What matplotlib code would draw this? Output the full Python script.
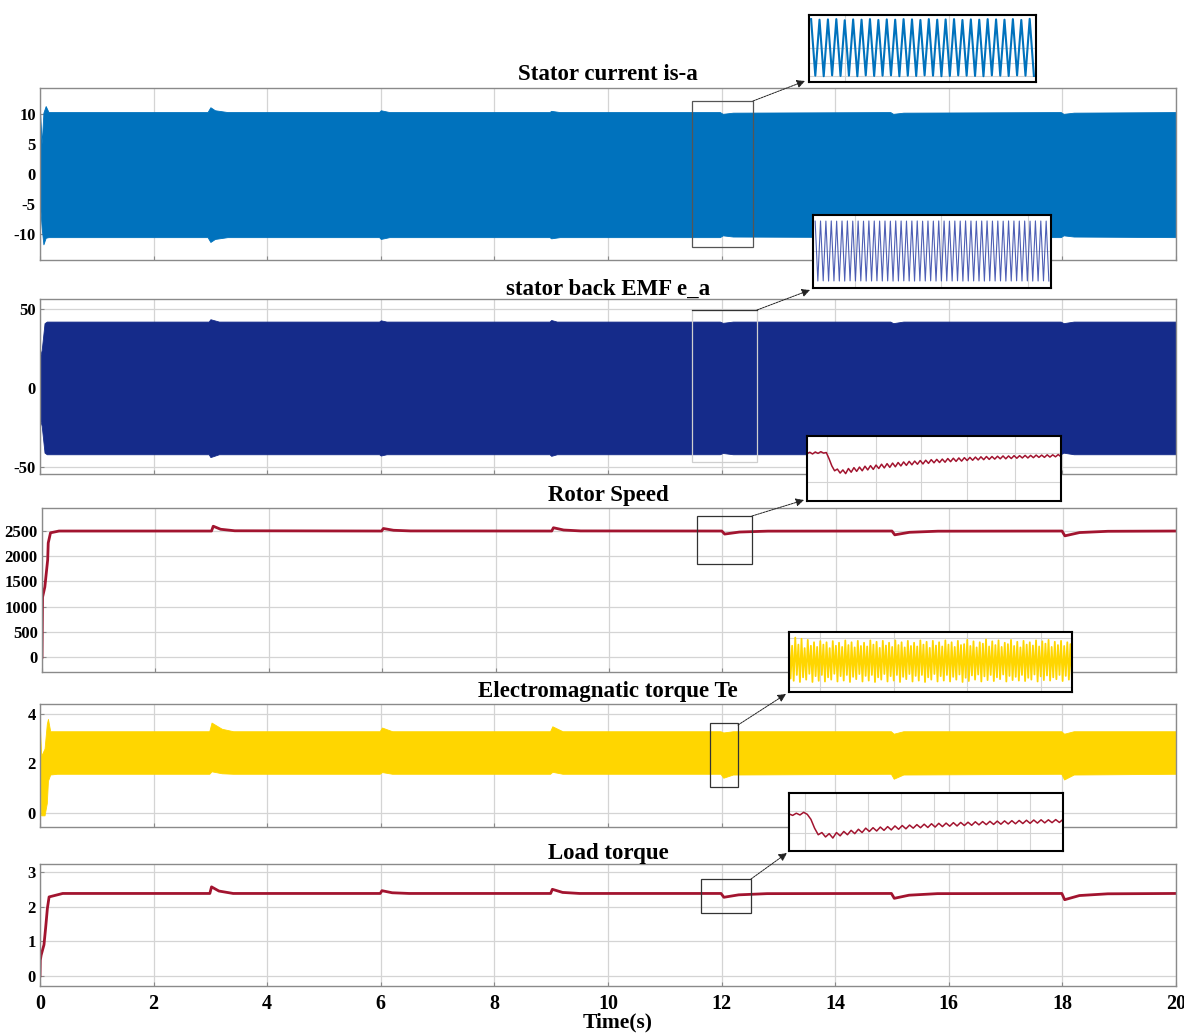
import numpy as np
import matplotlib
matplotlib.use("Agg")
import matplotlib.pyplot as plt
from matplotlib.patches import Rectangle

# ---------------- data ----------------
# Stator current i_sa : envelope of the dense waveform
t_cur = [0, 0.03, 0.06, 0.1, 0.15, 0.3, 2.95, 3.0, 3.08, 3.3, 5.97, 6.0, 6.15,
         8.97, 9.0, 9.15, 11.97, 12.02, 12.2, 14.97, 15.02, 15.2, 17.97, 18.02, 18.2, 20]
cur_upper = [10.5, 5.0, 10.2, 11.3, 10.3, 10.3, 10.3, 11.1, 10.6, 10.3, 10.3, 10.6, 10.3,
             10.3, 10.5, 10.3, 10.3, 10.0, 10.2, 10.3, 10.0, 10.2, 10.3, 10.0, 10.2, 10.3]
cur_lower = [-5.0, -9.0, -11.7, -10.6, -10.5, -10.5, -10.5, -11.3, -10.8, -10.5, -10.5, -10.8, -10.5,
             -10.5, -10.7, -10.5, -10.5, -10.2, -10.4, -10.5, -10.2, -10.4, -10.5, -10.2, -10.4, -10.5]

# Back EMF e_a : envelope
t_emf = [0, 0.03, 0.08, 0.12, 2.97, 3.0, 3.15, 5.97, 6.0, 6.1, 8.97, 9.0, 9.1,
         11.97, 12.02, 12.2, 14.97, 15.02, 15.2, 17.97, 18.02, 18.2, 20]
emf_upper = [20, 24, 41, 42, 42, 43.5, 42, 42, 42.8, 42, 42, 43, 42,
             42, 41.2, 42, 42, 41.0, 42, 42, 41.0, 42, 42]
emf_lower = [-20, -24, -41, -42, -42, -43.8, -42, -42, -42.8, -42, -42, -43, -42,
             -42, -41.2, -42, -42, -41.0, -42, -42, -41.0, -42, -42]

# Rotor speed (rpm)
t_spd = [0, 0.01, 0.05, 0.1, 0.11, 0.15, 0.3, 2.99, 3.02, 3.15, 3.4, 5.99, 6.02, 6.2, 6.5,
         8.99, 9.02, 9.2, 9.5, 11.99, 12.04, 12.3, 12.8, 14.99, 15.04, 15.3, 15.8,
         17.99, 18.04, 18.3, 18.8, 20]
spd = [0, 1190, 1390, 1925, 2260, 2460, 2495, 2495, 2590, 2530, 2500, 2495, 2545, 2510, 2497,
       2495, 2560, 2515, 2497, 2495, 2435, 2475, 2493, 2495, 2420, 2470, 2492,
       2495, 2400, 2465, 2490, 2495]

# Electromagnetic torque Te : envelope
t_te = [0, 0.02, 0.08, 0.12, 0.14, 0.18, 0.3, 2.98, 3.02, 3.2, 3.4, 5.98, 6.02, 6.2,
        8.98, 9.02, 9.2, 11.98, 12.03, 12.2, 14.98, 15.03, 15.2, 17.98, 18.03, 18.2, 20]
te_upper = [3.4, 2.3, 2.6, 3.6, 3.8, 3.3, 3.3, 3.3, 3.65, 3.4, 3.3, 3.3, 3.45, 3.3,
            3.3, 3.5, 3.3, 3.3, 3.25, 3.3, 3.3, 3.2, 3.3, 3.3, 3.2, 3.3, 3.3]
te_lower = [1.6, -0.1, -0.1, 0.4, 1.3, 1.55, 1.58, 1.58, 1.68, 1.6, 1.58, 1.58, 1.65, 1.58,
            1.58, 1.66, 1.58, 1.58, 1.42, 1.55, 1.58, 1.38, 1.55, 1.58, 1.35, 1.55, 1.58]

# Load torque (N.m)
t_load = [0, 0.005, 0.02, 0.07, 0.1, 0.13, 0.16, 0.4, 2.99, 3.02, 3.15, 3.4, 5.99, 6.02, 6.2, 6.5,
          8.99, 9.02, 9.2, 9.5, 11.99, 12.04, 12.3, 12.8, 14.99, 15.04, 15.3, 15.8,
          17.99, 18.04, 18.3, 18.8, 20]
load = [0, 0.45, 0.6, 0.9, 1.4, 1.95, 2.28, 2.38, 2.38, 2.57, 2.45, 2.38, 2.38, 2.46, 2.40, 2.38,
        2.38, 2.50, 2.41, 2.38, 2.38, 2.27, 2.34, 2.375, 2.38, 2.24, 2.33, 2.375,
        2.38, 2.20, 2.32, 2.37, 2.38]

# Zoomed windows
cur_zoom_peaks = [10.3, 10.1, 10.2, 10.3, 9.9, 10.2, 10.1, 10.3, 10.0, 10.2, 10.1, 10.3, 10.2, 10.0,
                  10.3, 10.1, 10.2, 10.3, 10.0, 10.2, 10.1, 10.3, 10.2, 10.1, 10.3, 10.0, 10.4]
cur_zoom_troughs = [-10.2, -10.4, -10.1, -10.3, -10.2, -10.4, -10.1, -10.3, -10.2, -10.1, -10.4,
                    -10.2, -10.3, -10.1, -10.2, -10.4, -10.3, -10.1, -10.2, -10.3, -10.4, -10.1,
                    -10.2, -10.3, -10.1, -10.2, -10.3]

emf_zoom_peaks = [41.8, 42.0, 41.9, 42.1, 41.8, 42.0, 42.1, 41.9, 42.0, 41.8, 42.1, 42.0, 41.9, 42.0,
                  41.8, 42.1, 42.0, 41.9, 42.0, 42.1, 41.8, 42.0, 41.9, 42.1, 42.0, 41.8, 42.0, 41.9,
                  42.1, 42.0, 41.8, 42.0, 42.1, 41.9, 42.0, 41.8, 42.1, 42.0, 41.9, 42.0, 41.8, 42.1,
                  42.0, 41.9]
emf_zoom_troughs = [-42.0, -41.8, -42.1, -41.9, -42.0, -42.1, -41.8, -42.0, -41.9, -42.1, -42.0,
                    -41.8, -42.0, -41.9, -42.1, -42.0, -41.8, -42.0, -42.1, -41.9, -42.0, -41.8,
                    -42.1, -42.0, -41.9, -42.0, -41.8, -42.1, -42.0, -41.9, -42.0, -42.1, -41.8,
                    -42.0, -41.9, -42.1, -42.0, -41.8, -42.0, -41.9, -42.1, -42.0, -41.8, -42.0]

spd_zoom = [2498, 2503, 2497, 2504, 2499, 2505, 2500, 2502, 2480, 2455, 2438, 2444, 2430, 2441,
            2428, 2446, 2433, 2449, 2436, 2451, 2438, 2454, 2441, 2456, 2443, 2458, 2446, 2461,
            2448, 2463, 2450, 2465, 2452, 2467, 2455, 2469, 2457, 2471, 2459, 2472, 2461, 2474,
            2462, 2475, 2464, 2477, 2466, 2478, 2467, 2479, 2468, 2481, 2470, 2482, 2471, 2483,
            2472, 2484, 2474, 2485, 2475, 2486, 2476, 2487, 2477, 2488, 2478, 2488, 2479, 2489,
            2480, 2490, 2480, 2490, 2481, 2491, 2482, 2491, 2483, 2492, 2483, 2492, 2484, 2493,
            2485, 2493, 2485, 2494, 2486, 2494, 2487, 2495, 2487]

te_zoom = [3.45, 1.75, 3.15, 1.65, 3.50, 1.90, 3.20, 1.60, 3.45, 1.80, 3.05, 1.70, 3.40, 1.95,
           3.15, 1.60, 3.30, 1.85, 3.10, 1.65, 3.35, 1.90, 3.20, 1.62, 3.30, 1.80, 3.05, 1.70,
           3.35, 1.95, 3.15, 1.62, 3.28, 1.85, 3.10, 1.66, 3.38, 1.90, 3.18, 1.60, 3.30, 1.82,
           3.08, 1.72, 3.36, 1.94, 3.14, 1.62, 3.28, 1.86, 3.12, 1.66, 3.38, 1.90, 3.20, 1.60,
           3.32, 1.80, 3.06, 1.70, 3.36, 1.94, 3.16, 1.62, 3.28, 1.85, 3.10, 1.66, 3.38, 1.90,
           3.18, 1.60, 3.30, 1.82, 3.08, 1.72, 3.36, 1.94, 3.14, 1.62, 3.28, 1.86, 3.12, 1.66,
           3.38, 1.90, 3.20, 1.60, 3.32, 1.80, 3.06, 1.70, 3.36, 1.94, 3.16, 1.62, 3.30, 1.85,
           3.12, 1.66, 3.38, 1.90, 3.20, 1.62, 3.30, 1.82, 3.10, 1.70, 3.36, 1.92, 3.18, 1.60,
           3.22, 1.78, 3.40, 1.64, 3.14, 1.88, 3.34, 1.70, 3.08, 1.92, 3.30, 1.62, 3.24, 1.84,
           3.42, 1.68, 3.12, 1.90, 3.34, 1.64, 3.18, 1.80, 3.38, 1.72, 3.10, 1.92, 3.28, 1.62,
           3.22, 1.86, 3.40, 1.68, 3.14, 1.82, 3.32, 1.66, 3.08, 1.90, 3.36, 1.64, 3.20, 1.78,
           3.30, 1.70, 3.16, 1.92, 3.38, 1.62, 3.12, 1.84, 3.34, 1.68, 3.24, 1.88, 3.40, 1.66,
           3.10, 1.80, 3.32, 1.72, 3.18, 1.90, 3.36, 1.64, 3.14, 1.86, 3.30, 1.70, 3.22, 1.62]

load_zoom = [2.385, 2.378, 2.388, 2.380, 2.392, 2.383, 2.36, 2.32, 2.29, 2.30, 2.28, 2.295, 2.275,
             2.30, 2.285, 2.305, 2.29, 2.31, 2.295, 2.315, 2.30, 2.32, 2.305, 2.322, 2.307, 2.325,
             2.31, 2.327, 2.312, 2.33, 2.315, 2.332, 2.317, 2.334, 2.32, 2.336, 2.322, 2.338, 2.323,
             2.34, 2.325, 2.342, 2.327, 2.343, 2.329, 2.345, 2.33, 2.346, 2.332, 2.347, 2.333,
             2.349, 2.335, 2.35, 2.336, 2.351, 2.337, 2.352, 2.338, 2.353, 2.339, 2.354, 2.34,
             2.355, 2.341, 2.356, 2.342, 2.357, 2.343, 2.358, 2.344, 2.358, 2.345, 2.359, 2.346,
             2.36]

titles = ["Stator current is-a", "stator back EMF e_a", "Rotor Speed",
          "Electromagnatic torque Te", "Load torque"]
x_ticks = [0, 2, 4, 6, 8, 10, 12, 14, 16, 18, 20]

# ---------------- styling ----------------
W, H = 1184, 1034
SERIF = ["Liberation Serif", "DejaVu Serif"]
plt.rcParams["font.family"] = SERIF
plt.rcParams["font.weight"] = "bold"
plt.rcParams["axes.unicode_minus"] = False
C_CUR = "#0072BD"
C_EMF = "#152B8A"
C_RED = "#A2142F"
C_TE = "#FFD600"
GRID = "#d4d4d4"

fig = plt.figure(figsize=(W / 100, H / 100), dpi=100)


def px_axes(x0, y0, x1, y1, **kw):
    return fig.add_axes([x0 / W, 1 - y1 / H, (x1 - x0) / W, (y1 - y0) / H], **kw)


def style_main(ax, yticks, ylim, last=False):
    ax.set_xlim(0, 20)
    ax.set_ylim(*ylim)
    ax.set_yticks(yticks)
    ax.set_xticks(x_ticks)
    ax.grid(True, color=GRID, lw=0.9)
    ax.set_axisbelow(True)
    for s in ax.spines.values():
        s.set_color("#8a8a8a")
        s.set_linewidth(1.0)
    ax.tick_params(direction="in", length=3, color="#8a8a8a", labelsize=12, pad=3)
    for lab in ax.get_yticklabels():
        lab.set_fontweight("bold")
    if last:
        ax.tick_params(axis="x", labelsize=14.5, pad=6)
        for lab in ax.get_xticklabels():
            lab.set_fontweight("bold")
    else:
        ax.tick_params(axis="x", labelbottom=False)


# main panels (pixel boxes)
ax1 = px_axes(40, 88, 1176, 260)
ax2 = px_axes(40, 299, 1176, 474)
ax3 = px_axes(42, 508, 1176, 672)
ax4 = px_axes(40, 704, 1176, 827)
ax5 = px_axes(40, 864, 1176, 986)

ax1.fill_between(t_cur, cur_lower, cur_upper, color=C_CUR, lw=0.6, edgecolor=C_CUR)
style_main(ax1, [-10, -5, 0, 5, 10], (-14.3, 14.3))

ax2.fill_between(t_emf, emf_lower, emf_upper, color=C_EMF, lw=0.6, edgecolor=C_EMF)
style_main(ax2, [-50, 0, 50], (-54.5, 56.3))

ax3.plot(t_spd, spd, color=C_RED, lw=2.0)
style_main(ax3, [0, 500, 1000, 1500, 2000, 2500], (-290, 2950))

ax4.fill_between(t_te, te_lower, te_upper, color=C_TE, lw=0.6, edgecolor=C_TE)
style_main(ax4, [0, 2, 4], (-0.57, 4.4))

ax5.plot(t_load, load, color=C_RED, lw=2.0)
style_main(ax5, [0, 1, 2, 3], (-0.29, 3.23), last=True)

# titles
for txt, y in zip(titles, [75, 289, 495, 691, 853]):
    fig.text(608 / W, 1 - y / H, txt, ha="center", va="center", fontsize=16.5,
             fontweight="bold", family=SERIF)
fig.text(618 / W, 1 - 1022 / H, "Time(s)", ha="center", va="center", fontsize=15.5,
         fontweight="bold", family=SERIF)

# overlay for zoom rectangles and arrows
ov = fig.add_axes([0, 0, 1, 1], zorder=5)
ov.set_xlim(0, W)
ov.set_ylim(H, 0)
ov.axis("off")
ov.patch.set_alpha(0)

rects = [(692, 101, 753, 247, "#555555"),
         (692, 310, 757, 462, "#cfcfcf"),
         (697, 516, 752, 564, "#333333"),
         (710, 723, 738, 787, "#333333"),
         (701, 879, 751, 913, "#333333")]
for x0, y0, x1, y1, c in rects:
    ov.add_patch(Rectangle((x0, y0), x1 - x0, y1 - y0, fill=False, ec=c, lw=0.9))
ov.plot([692, 757], [310, 310], color="#333333", lw=0.9)

arrows = [((753, 101), (805, 81)),
          ((757, 310), (810, 290)),
          ((752, 516), (804, 500)),
          ((738, 725), (786, 694)),
          ((751, 879), (787, 853))]
for (xs, ys), (xe, ye) in arrows:
    ov.annotate("", xy=(xe, ye), xytext=(xs, ys),
                arrowprops=dict(arrowstyle="-|>", color="#222222", lw=0.7,
                                linestyle=(0, (2, 1)), mutation_scale=12,
                                shrinkA=0, shrinkB=0))


def inset(x0, y0, x1, y1):
    a = px_axes(x0, y0, x1, y1, zorder=10)
    a.set_facecolor("white")
    for s in a.spines.values():
        s.set_color("black")
        s.set_linewidth(1.5)
    a.set_xticks([])
    a.set_yticks([])
    return a


def zigzag(peaks, troughs):
    vals = []
    for p, t in zip(peaks, troughs):
        vals.extend([p, t])
    return vals


# current inset
a = inset(809, 15, 1036, 82)
v = zigzag(cur_zoom_peaks, cur_zoom_troughs)
a.plot(range(len(v)), v, color=C_CUR, lw=1.5)
a.set_xlim(-0.5, len(v) - 0.5)
a.set_ylim(-12.5, 11.8)
for xg in [0.15, 0.62]:
    a.axvline(xg * (len(v) - 1), color=GRID, lw=0.8, zorder=0)
for yg in [0, -5.5, -10.2]:
    a.axhline(yg, color=GRID, lw=0.8, zorder=0)

# emf inset
a = inset(813, 215, 1051, 288)
v = zigzag(emf_zoom_peaks, emf_zoom_troughs)
a.plot(range(len(v)), v, color="#2f43a8", lw=0.8, alpha=0.85)
a.set_xlim(-0.8, len(v) - 0.2)
a.set_ylim(-51.8, 50.4)
for xg in [0.17, 0.54, 0.91]:
    a.axvline(xg * (len(v) - 1), color=GRID, lw=0.8, zorder=0)
a.axhline(0, color=GRID, lw=0.8, zorder=0)

# speed inset
a = inset(807, 436, 1061, 501)
a.plot(range(len(spd_zoom)), spd_zoom, color=C_RED, lw=1.1)
a.set_xlim(0, len(spd_zoom) - 1)
a.set_ylim(2332, 2560)
for xg in [0.08, 0.27, 0.45, 0.63, 0.82]:
    a.axvline(xg * (len(spd_zoom) - 1), color=GRID, lw=0.8, zorder=0)
for yg in [2500, 2400]:
    a.axhline(yg, color=GRID, lw=0.8, zorder=0)

# torque inset
a = inset(789, 632, 1072, 692)
a.plot(range(len(te_zoom)), te_zoom, color=C_TE, lw=1.3)
a.set_xlim(0, len(te_zoom) - 1)
a.set_ylim(1.17, 3.74)
for xg in [0.11, 0.37, 0.63, 0.89]:
    a.axvline(xg * (len(te_zoom) - 1), color=GRID, lw=0.8, zorder=0)
for yg in [2.5, 1.4, 3.5]:
    a.axhline(yg, color=GRID, lw=0.8, zorder=0)

# load inset
a = inset(789, 793, 1063, 851)
a.plot(range(len(load_zoom)), load_zoom, color=C_RED, lw=1.1)
a.set_xlim(0, len(load_zoom) - 1)
a.set_ylim(2.216, 2.48)
for xg in [0.06, 0.17, 0.29, 0.41, 0.53, 0.64, 0.76, 0.88]:
    a.axvline(xg * (len(load_zoom) - 1), color=GRID, lw=0.8, zorder=0)
for yg in [2.4, 2.3]:
    a.axhline(yg, color=GRID, lw=0.8, zorder=0)

fig.savefig("out.png", dpi=100, facecolor="white")
